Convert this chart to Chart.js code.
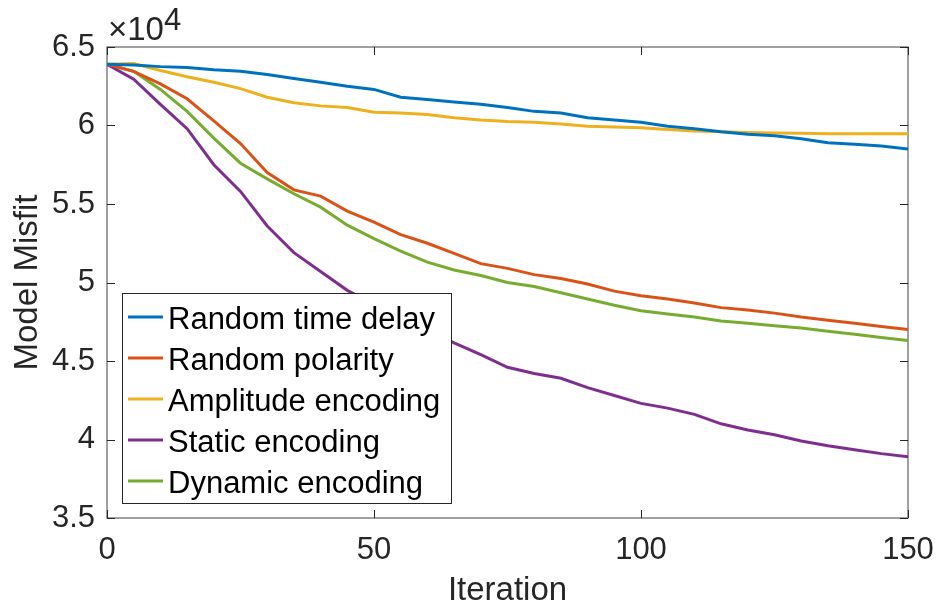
<!DOCTYPE html>
<html>
<head>
<meta charset="utf-8">
<script src="https://cdn.jsdelivr.net/npm/chart.js@4"></script>
<style>
  html, body { margin: 0; padding: 0; background: #fff; }
  canvas { display: block; }
</style>
</head>
<body>
<canvas id="misfitChart" width="936" height="611"></canvas>
<script>
// iterations (sampled every 5)
const iterations = [0, 5, 10, 15, 20, 25, 30, 35, 40, 45, 50, 55, 60, 65, 70, 75,
  80, 85, 90, 95, 100, 105, 110, 115, 120, 125, 130, 135, 140, 145, 150];

// model misfit, in units of 1e4
const randomTimeDelay = [6.39, 6.385, 6.375, 6.37, 6.355, 6.345, 6.325, 6.30, 6.275, 6.25,
  6.23, 6.18, 6.165, 6.15, 6.135, 6.115, 6.09, 6.08, 6.05, 6.035, 6.02, 5.995, 5.98, 5.96,
  5.945, 5.935, 5.915, 5.89, 5.88, 5.87, 5.85];
const randomPolarity = [6.39, 6.345, 6.265, 6.17, 6.03, 5.885, 5.70, 5.59, 5.55, 5.455,
  5.385, 5.305, 5.25, 5.185, 5.12, 5.09, 5.05, 5.025, 4.99, 4.945, 4.915, 4.895, 4.87, 4.84,
  4.825, 4.805, 4.78, 4.76, 4.74, 4.72, 4.70];
const amplitudeEncoding = [6.39, 6.395, 6.35, 6.31, 6.275, 6.235, 6.18, 6.145, 6.125, 6.115,
  6.085, 6.08, 6.07, 6.05, 6.035, 6.025, 6.02, 6.01, 5.995, 5.99, 5.985, 5.975, 5.965, 5.96,
  5.955, 5.952, 5.95, 5.948, 5.948, 5.948, 5.948];
const staticEncoding = [6.39, 6.295, 6.135, 5.98, 5.75, 5.58, 5.36, 5.19, 5.07, 4.95,
  4.86, 4.78, 4.70, 4.615, 4.54, 4.46, 4.42, 4.39, 4.33, 4.28, 4.23, 4.20, 4.16, 4.10,
  4.06, 4.03, 3.99, 3.96, 3.935, 3.91, 3.89];
const dynamicEncoding = [6.39, 6.345, 6.23, 6.09, 5.92, 5.76, 5.66, 5.565, 5.48, 5.365,
  5.28, 5.20, 5.13, 5.08, 5.045, 5.00, 4.975, 4.935, 4.895, 4.855, 4.82, 4.80, 4.78, 4.755,
  4.74, 4.725, 4.71, 4.69, 4.67, 4.65, 4.63];

const seriesNames = ["Random time delay", "Random polarity", "Amplitude encoding",
  "Static encoding", "Dynamic encoding"];
const seriesValues = [randomTimeDelay, randomPolarity, amplitudeEncoding, staticEncoding, dynamicEncoding];
const seriesColors = ["#0072BD", "#D95319", "#EDB120", "#7E2F8E", "#77AC30"];

const FONT = '"Liberation Sans", Arial, Helvetica, sans-serif';
const TEXT = "#262626";

// box with inward ticks plus the x10^4 exponent label
const frame = {
  id: "frame",
  beforeDatasetsDraw(chart) {
    const { ctx, chartArea: a, scales: { x, y } } = chart;
    ctx.save();
    ctx.strokeStyle = "#808080";
    ctx.lineWidth = 1.5;
    ctx.strokeRect(a.left, a.top, a.right - a.left, a.bottom - a.top);
    ctx.strokeStyle = TEXT;
    ctx.lineWidth = 1;
    ctx.beginPath();
    x.ticks.forEach((t) => {
      const px = Math.round(x.getPixelForValue(t.value)) + 0.5;
      ctx.moveTo(px, a.bottom); ctx.lineTo(px, a.bottom - 8);
      ctx.moveTo(px, a.top); ctx.lineTo(px, a.top + 8);
    });
    y.ticks.forEach((t) => {
      const py = Math.round(y.getPixelForValue(t.value)) + 0.5;
      ctx.moveTo(a.left, py); ctx.lineTo(a.left + 8, py);
      ctx.moveTo(a.right, py); ctx.lineTo(a.right - 8, py);
    });
    ctx.stroke();

    ctx.fillStyle = TEXT;
    ctx.font = "33px " + FONT;
    ctx.textBaseline = "alphabetic";
    ctx.textAlign = "left";
    ctx.fillText("\u00d710", a.left + 1, a.top - 7);
    const w = ctx.measureText("\u00d710").width;
    ctx.font = "31px " + FONT;
    ctx.fillText("4", a.left + 1 + w, a.top - 17);
    ctx.restore();
  },
  afterDraw(chart) {
    const { ctx, chartArea: a } = chart;
    const sets = chart.data.datasets;
    ctx.save();
    ctx.font = "31px " + FONT;
    const maxW = Math.max(...sets.map((d) => ctx.measureText(d.label).width));
    const rowH = 41;
    const bx = a.left + 15;
    const bh = 26 + rowH * (sets.length - 1) + 20;
    const by = a.bottom - 15 - bh;
    const bw = 46 + maxW + 11;
    ctx.fillStyle = "#fff";
    ctx.fillRect(bx, by, bw, bh);
    ctx.strokeStyle = TEXT;
    ctx.lineWidth = 1;
    ctx.strokeRect(Math.round(bx) + 0.5, Math.round(by) + 0.5, Math.round(bw), Math.round(bh));
    ctx.textBaseline = "middle";
    ctx.textAlign = "left";
    sets.forEach((d, i) => {
      const cy = by + 25 + i * rowH;
      ctx.strokeStyle = d.borderColor;
      ctx.lineWidth = 3;
      ctx.beginPath();
      ctx.moveTo(bx + 6, cy - 1);
      ctx.lineTo(bx + 41, cy - 1);
      ctx.stroke();
      ctx.fillStyle = "#000";
      ctx.fillText(d.label, bx + 46, cy + 2);
    });
    ctx.restore();
  },
};

new Chart(document.getElementById("misfitChart"), {
  type: "line",
  data: {
    datasets: seriesNames.map((name, i) => ({
      label: name,
      data: iterations.map((it, k) => ({ x: it, y: seriesValues[i][k] })),
      borderColor: seriesColors[i],
      backgroundColor: seriesColors[i],
      borderWidth: 3,
      pointRadius: 0,
      tension: 0,
      fill: false,
    })),
  },
  options: {
    responsive: false,
    animation: false,
    devicePixelRatio: 1,
    layout: { padding: { top: 47, right: 28, left: 0, bottom: 0 } },
    plugins: { legend: { display: false }, tooltip: { enabled: false } },
    scales: {
      x: {
        type: "linear",
        min: 0,
        max: 150,
        grid: { display: false, drawTicks: false },
        border: { display: false },
        ticks: { stepSize: 50, padding: 14, color: TEXT, font: { family: FONT, size: 31 }, maxRotation: 0 },
        title: { display: true, text: "Iteration", color: TEXT, padding: { top: 0, bottom: 0 },
          font: { family: FONT, size: 33, lineHeight: 1.2 } },
        afterFit: (s) => { s.height = 93; s.paddingLeft = 0; s.paddingRight = 0; },
      },
      y: {
        min: 3.5,
        max: 6.5,
        grid: { display: false, drawTicks: false },
        border: { display: false },
        ticks: { stepSize: 0.5, padding: 12, color: TEXT, font: { family: FONT, size: 31 },
          callback: (v) => String(Number(v.toFixed(1))) },
        title: { display: true, text: "Model Misfit", color: TEXT, padding: { top: 8, bottom: 0 },
          font: { family: FONT, size: 33, lineHeight: 1.2 } },
        afterFit: (s) => { s.width = 107; s.paddingTop = 0; s.paddingBottom = 0; },
      },
    },
  },
  plugins: [frame],
});
</script>
</body>
</html>
